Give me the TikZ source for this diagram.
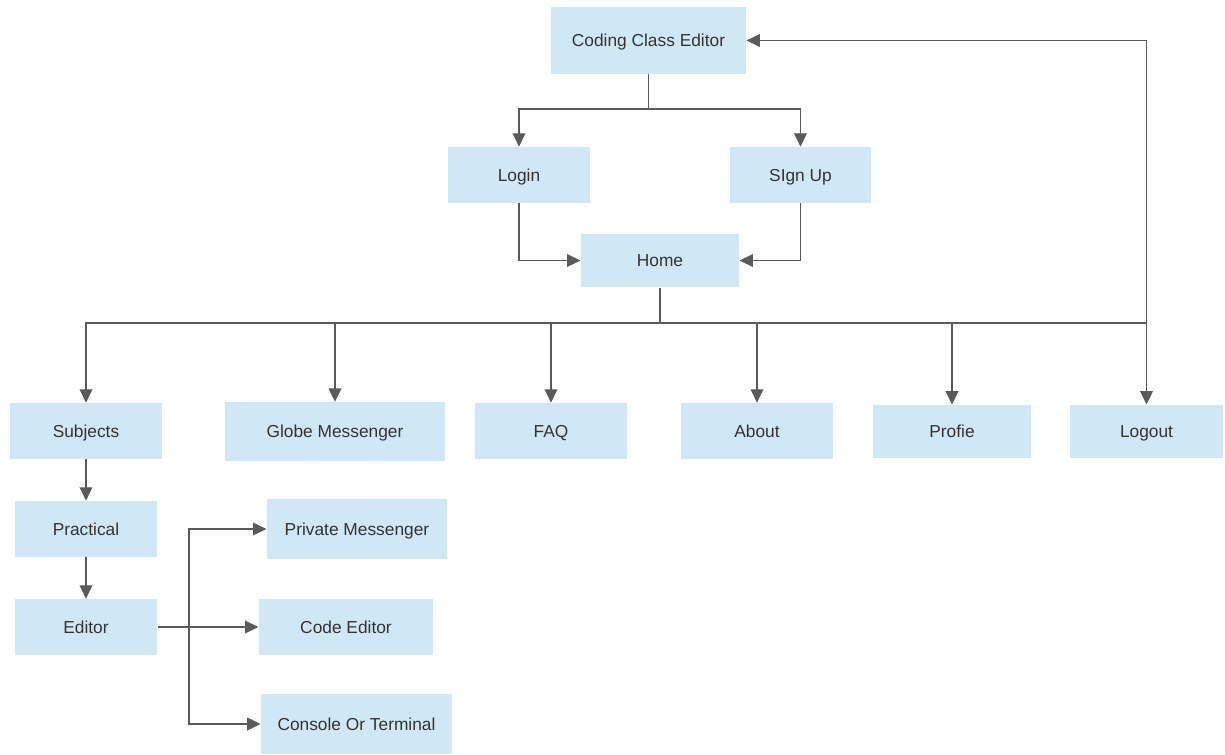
\documentclass[tikz,border=0pt]{standalone}
\usepackage{fontspec}
\setmainfont{Liberation Sans}
\usetikzlibrary{arrows.meta}
\definecolor{boxfill}{RGB}{208,232,246}
\definecolor{linegray}{RGB}{90,90,90}
\definecolor{textgray}{RGB}{51,51,51}
\tikzset{
  page/.style = {x=0.75pt, y=-0.75pt},
  pagebox/.style = {rectangle, fill=boxfill, text=textgray, inner sep=0pt,
                    text height=9.3pt, text depth=0pt,
                    font=\fontsize{13}{15}\selectfont},
  link/.style = {draw=linegray, line width=1pt,
                 -{Triangle[length=10pt,width=9.5pt]}},
  wire/.style = {draw=linegray, line width=1pt},
}

\begin{document}
\begin{tikzpicture}[page]
  \useasboundingbox (0,0) rectangle (1225,754);

  % top of the site
  \node [pagebox, minimum width=146bp, minimum height=50bp] (cce) at (648.5,40.5) {Coding Class Editor};
  \node [pagebox, minimum width=106.5bp, minimum height=42bp] (login) at (519,175) {Login};
  \node [pagebox, minimum width=106bp, minimum height=42bp] (signup) at (800.5,175) {SIgn Up};
  \node [pagebox, minimum width=118.5bp, minimum height=40bp] (home) at (660,260.5) {Home};

  % main menu
  \node [pagebox, minimum width=114bp, minimum height=42bp] (subjects) at (86,431) {Subjects};
  \node [pagebox, minimum width=165bp, minimum height=44bp] (globe) at (335,431.5) {Globe Messenger};
  \node [pagebox, minimum width=114bp, minimum height=42bp] (faq) at (551,431) {FAQ};
  \node [pagebox, minimum width=114bp, minimum height=42bp] (about) at (757,431) {About};
  \node [pagebox, minimum width=118.5bp, minimum height=40bp] (profie) at (952,431.5) {Profie};
  \node [pagebox, minimum width=115bp, minimum height=40bp] (logout) at (1146.5,431.5) {Logout};

  % subjects branch
  \node [pagebox, minimum width=106.5bp, minimum height=42bp] (practical) at (86,529) {Practical};
  \node [pagebox, minimum width=106.5bp, minimum height=42bp] (editor) at (86,627) {Editor};
  \node [pagebox, minimum width=135bp, minimum height=45bp] (private) at (357,529) {Private Messenger};
  \node [pagebox, minimum width=130.5bp, minimum height=42bp] (code) at (346,627) {Code Editor};
  \node [pagebox, minimum width=143bp, minimum height=45bp] (console) at (356.5,724) {Console Or Terminal};

  \coordinate (split) at (648.5,109);
  \coordinate (bus) at (660,323);
  \coordinate (fork) at (189,627);

  \draw [wire] (cce) -- (split);
  \draw [link] (split) -| (login);
  \draw [link] (split) -| (signup);
  \draw [link] (login) |- (home);
  \draw [link] (signup) |- (home);

  \draw [wire] (home) -- (bus);
  \foreach \item in {subjects,globe,faq,about,profie,logout}
    \draw [link] (bus) -| (\item);
  \draw [link] (logout) |- (cce);

  \draw [link] (subjects) -- (practical);
  \draw [link] (practical) -- (editor);
  \draw [link] (editor) -- (code);
  \draw [link] (fork) |- (private);
  \draw [link] (fork) |- (console);
\end{tikzpicture}
\end{document}
